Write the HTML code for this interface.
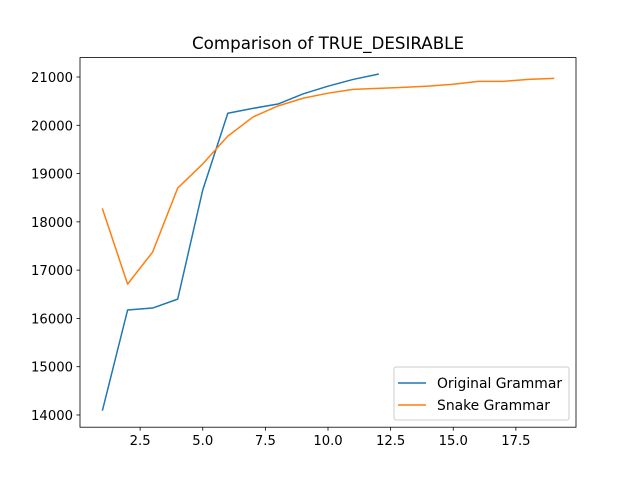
<!DOCTYPE html>
<html><head><meta charset="utf-8"><style>
body{margin:0;background:#fff}
svg{font-family:"DejaVu Sans","Liberation Sans",sans-serif}
</style></head><body>
<svg id="chart" width="640" height="480" xmlns="http://www.w3.org/2000/svg">
<rect width="640" height="480" fill="#fff"/>
<text x="328" y="49" font-size="16.7" text-anchor="middle">Comparison of TRUE_DESIRABLE</text>
<g id="plot"></g>
</svg>
<script>
const xTicks=[2.5,5.0,7.5,10.0,12.5,15.0,17.5];
const yTicks=[14000,15000,16000,17000,18000,19000,20000,21000];
const origX=[1,2,3,4,5,6,7,8,9,10,11,12];
const origY=[14103,16174,16215,16400,18660,20250,20350,20440,20650,20810,20950,21060];
const snakeX=[1,2,3,4,5,6,7,8,9,10,11,12,13,14,15,16,17,18,19];
const snakeY=[18265,16710,17375,18700,19200,19775,20170,20400,20560,20665,20745,20765,20785,20810,20850,20910,20910,20950,20970];

const L=80,R=576,T=57.6,B=427.2;
const xmin=0.1,xmax=19.9,ymin=13747,ymax=21402;
const sx=v=>L+(v-xmin)/(xmax-xmin)*(R-L);
const sy=v=>B-(v-ymin)/(ymax-ymin)*(B-T);
const NS="http://www.w3.org/2000/svg";
const g=document.getElementById('plot');
function mk(tag,attrs){const e=document.createElementNS(NS,tag);for(const k in attrs)e.setAttribute(k,attrs[k]);g.appendChild(e);return e;}

xTicks.forEach(t=>{
  const x=sx(t);
  const tk=mk('line',{x1:x,x2:x,y1:B,y2:B+3.5,stroke:'#000','stroke-width':0.8});
  
  
  const tx=mk('text',{x:x,y:B+18,'font-size':13.2,'text-anchor':'middle'});
  tx.textContent=t.toFixed(1);
  
  
});
yTicks.forEach(t=>{
  const y=sy(t);
  const tk=mk('line',{x1:L-3.5,x2:L,y1:y,y2:y,stroke:'#000','stroke-width':0.8});
  
  
  const tx=mk('text',{x:L-7,y:y+5,'font-size':13.2,'text-anchor':'end'});
  tx.textContent=t;
  
  
});
function line(xs,ys,color,name){
  const p=mk('polyline',{points:xs.map((x,i)=>sx(x)+','+sy(ys[i])).join(' '),fill:'none',stroke:color,'stroke-width':1.5,'stroke-linejoin':'round','stroke-linecap':'square'});
  
  
}
line(origX,origY,'#1f77b4','original-grammar-line');
line(snakeX,snakeY,'#ff7f0e','snake-grammar-line');
const fr=mk('rect',{x:L,y:T,width:R-L,height:B-T,fill:'none',stroke:'#000','stroke-width':0.8});



const lg=mk('rect',{x:394,y:367,width:175,height:53,rx:2,fill:'#fff','fill-opacity':0.8,stroke:'#ccc','stroke-width':1});


[['Original Grammar','#1f77b4',383],['Snake Grammar','#ff7f0e',405]].forEach(([n,c,y])=>{
  const l=mk('line',{x1:398,x2:426,y1:y,y2:y,stroke:c,'stroke-width':1.5});
  
  
  const t=mk('text',{x:437,y:y+5,'font-size':13.9});
  t.textContent=n;
  
  
});
</script>
</body></html>
